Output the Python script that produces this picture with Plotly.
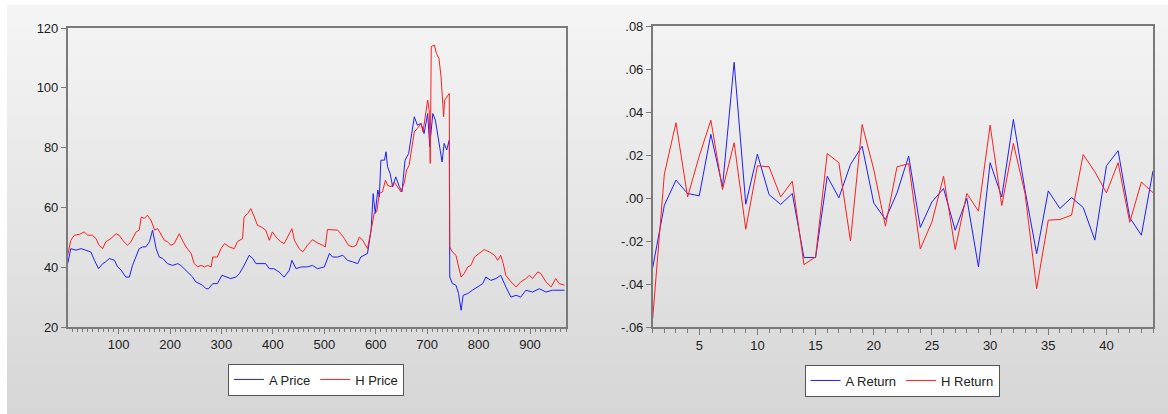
import plotly.graph_objects as go

# ---------------- data ----------------
h_price_idx = [1, 7, 14, 24, 33, 40, 49, 56, 62, 69, 75, 85, 95, 101, 108, 117, 124, 134, 140, 144,
               150, 156, 163, 170, 176, 182, 189, 195, 202, 208, 218, 224, 231, 241, 247, 254, 260, 267,
               273, 280, 283, 292, 299, 306, 315, 325, 331, 341, 344, 351, 357, 364, 370, 377, 386, 393,
               399, 406, 415, 422, 432, 437, 442, 451, 458, 467, 477, 487, 497, 502, 506, 516, 526, 532,
               539, 547, 555, 562, 568, 575, 581, 584, 591, 594, 597, 602, 607, 613, 619, 623, 630, 636,
               643, 649, 656, 660, 665, 670, 675, 681, 688, 692, 698, 701, 704, 706, 708, 714, 718, 723,
               727, 730, 732, 734, 738, 743, 744, 749, 756, 761, 766, 772, 779, 785, 792, 801, 811, 821,
               831, 837, 843, 848, 853, 863, 873, 882, 892, 899, 905, 915, 921, 931, 941, 950, 957, 967]
h_price = [44, 49, 50.7, 51, 51.8, 50.7, 50.7, 49.6, 47.3, 46.2, 48.5, 49.6, 51.2, 50.7, 49, 47.3, 48.5,
           51.8, 52.4, 56.8, 56.3, 57.4, 55.7, 52.4, 52.9, 51.2, 49, 48.5, 47.3, 47.9, 51.2, 49, 46.8,
           44.6, 41.2, 40.1, 40.6, 40.1, 40.6, 40.1, 43.4, 43.4, 46.2, 47.9, 46.8, 46.2, 48.5, 49.6,
           56.8, 57.9, 59.6, 56.8, 54, 53.5, 52.4, 49, 51.8, 50.1, 48.5, 47.9, 51.2, 52.9, 49, 46.2,
           45.1, 47.3, 49.2, 48.1, 47.3, 46.8, 52.6, 52.6, 52.4, 51.2, 49.6, 47.3, 46.8, 47.3, 50.1,
           49, 46.8, 46.2, 52.4, 55.7, 58, 58.5, 64.6, 65.2, 69.1, 67.4, 66.9, 68.5, 66.9, 65.2, 68.5,
           72.5, 74.1, 80.3, 85.3, 86.4, 88.1, 85.3, 91.4, 95.9, 92.5, 74.7, 113.8, 114.3, 111.5,
           109.8, 103.7, 93.7, 90.3, 95.9, 97, 98.1, 46.8, 45.1, 44, 40.1, 36.7, 37.9, 40.1, 40.6,
           43.4, 44.6, 45.9, 45.1, 44, 42.3, 44, 41.2, 37.3, 35.1, 33.4, 35.1, 36.2, 37.3, 36.2, 38.4,
           37.9, 35.1, 33.4, 36.2, 34.5, 34]

a_price_idx = [1, 7, 17, 27, 36, 46, 53, 61, 69, 75, 82, 92, 98, 105, 114, 121, 127, 134, 140, 147,
               153, 160, 166, 173, 179, 186, 195, 205, 215, 221, 228, 237, 244, 250, 257, 263, 270, 275,
               283, 292, 301, 309, 318, 328, 335, 344, 354, 361, 367, 377, 386, 393, 402, 412, 422, 432,
               437, 445, 455, 467, 477, 487, 500, 505, 510, 516, 526, 536, 545, 555, 565, 571, 578, 584,
               591, 595, 599, 604, 607, 610, 617, 620, 623, 628, 633, 639, 646, 651, 657, 664, 670, 675,
               681, 688, 694, 701, 705, 711, 716, 720, 724, 729, 733, 738, 743, 744, 749, 756, 761, 766,
               770, 779, 788, 798, 808, 814, 824, 834, 843, 853, 863, 873, 882, 892, 905, 918, 931, 944,
               957, 967]
a_price = [41.2, 46.2, 45.7, 46.2, 45.7, 45.1, 42.3, 39.5, 41.2, 41.8, 42.9, 42.3, 40.1, 39, 36.7, 36.7,
           40.6, 43.4, 46.2, 46.8, 46.8, 48.5, 52.4, 46.2, 43.4, 42.9, 41.2, 40.6, 41.2, 40.6, 39.5,
           37.9, 36.7, 35.1, 34.5, 34, 32.8, 32.8, 34.5, 34.5, 37.3, 36.7, 36.2, 36.7, 37.9, 40.6, 44,
           42.9, 41.2, 41.2, 41.2, 39.5, 39.5, 38.4, 36.7, 39, 42.3, 39.5, 40.1, 40.1, 40.6, 39.5, 40.1,
           42.3, 44.6, 43.4, 43.4, 44, 42.3, 41.8, 41.2, 43.4, 44, 44.6, 52.4, 64.6, 58, 65.8, 63.5,
           75.8, 75.8, 78.6, 73.6, 71.3, 66.9, 70.2, 66.9, 65.2, 75.8, 78, 84.7, 90.3, 87.5, 88.1, 84.7,
           91.4, 80.3, 91.4, 89.2, 84.7, 80.3, 75.2, 81.4, 79.2, 82.5, 36.7, 34.5, 34, 31.2, 25.6, 30.6,
           31.2, 32.3, 33.4, 34.5, 36.7, 35.6, 36.2, 37.3, 33.4, 30, 30.6, 30, 32.3, 31.7, 32.8, 31.7,
           32.3, 32.3, 32.3]

ret_idx = list(range(1, 45))
a_return = [-0.0324, -0.0034, 0.0083, 0.0021, 0.0010, 0.0296, 0.0052, 0.0631, -0.0029, 0.0204,
            0.0016, -0.0030, 0.0021, -0.0277, -0.0277, 0.0101, 0.0001, 0.0156, 0.0241, -0.0023,
            -0.0100, 0.0024, 0.0195, -0.0137, -0.0018, 0.0044, -0.0150, -0.0002, -0.0321, 0.0164,
            0.0005, 0.0365, 0.0036, -0.0259, 0.0033, -0.0049, 0.0002, -0.0044, -0.0196, 0.0150,
            0.0220, -0.0091, -0.0173, 0.0126]
h_return = [-0.0561, 0.0111, 0.0350, 0.0005, 0.0195, 0.0362, 0.0039, 0.0257, -0.0145, 0.0150,
            0.0145, 0.0005, 0.0078, -0.0310, -0.0274, 0.0207, 0.0164, -0.0200, 0.0342, 0.0133,
            -0.0131, 0.0145, 0.0160, -0.0237, -0.0111, 0.0101, -0.0240, 0.0021, -0.0061, 0.0339,
            -0.0035, 0.0254, 0.0021, -0.0422, -0.0103, -0.0100, -0.0080, 0.0202, 0.0122, 0.0024,
            0.0164, -0.0113, 0.0074, 0.0025]

ret_tickvals = [-0.06, -0.04, -0.02, 0.0, 0.02, 0.04, 0.06, 0.08]
ret_ticktext = ['-.06', '-.04', '-.02', '.00', '.02', '.04', '.06', '.08']

# ---------------- figure ----------------
W, H = 1168, 414
BLUE = 'rgb(30,30,255)'
RED = 'rgb(255,30,30)'
FONT = 'Liberation Sans, Arial, sans-serif'

fig = go.Figure()
fig.add_trace(go.Scatter(x=a_price_idx, y=a_price, mode='lines', name='A Price',
                         line=dict(color=BLUE, width=1), xaxis='x', yaxis='y', legend='legend'))
fig.add_trace(go.Scatter(x=h_price_idx, y=h_price, mode='lines', name='H Price',
                         line=dict(color=RED, width=1), xaxis='x', yaxis='y', legend='legend'))
fig.add_trace(go.Scatter(x=ret_idx, y=a_return, mode='lines', name='A Return',
                         line=dict(color=BLUE, width=1), xaxis='x2', yaxis='y2', legend='legend2'))
fig.add_trace(go.Scatter(x=ret_idx, y=h_return, mode='lines', name='H Return',
                         line=dict(color=RED, width=1), xaxis='x2', yaxis='y2', legend='legend2'))

# background gradient bands (slightly overlapping to avoid seams)
shapes = []
n = 60
top, bottom = 1 - 5 / H, 0.0
step = (top - bottom) / n
for k in range(n):
    y1 = top - step * k
    y0 = max(bottom, y1 - step - 1.5 / H)
    c = int(round(245 - (245 - 214) * (k + 0.5) / n))
    shapes.append(dict(type='rect', xref='paper', yref='paper', x0=7 / W, x1=1, y0=y0, y1=y1,
                       fillcolor=f'rgb({c},{c},{c})', line=dict(width=0), layer='below'))

axis_common = dict(showline=True, mirror=True, linecolor='#7a7a7a', linewidth=1.5, showgrid=False,
                   zeroline=False, ticks='outside', tickcolor='#7a7a7a', automargin=False,
                   tickfont=dict(size=13, color='#222'))

fig.update_layout(
    width=W, height=H, autosize=False, margin=dict(l=0, r=0, t=0, b=0, pad=0, autoexpand=False),
    paper_bgcolor='white', plot_bgcolor='white',
    font=dict(family=FONT, size=13, color='#222'),
    shapes=shapes,
    xaxis=dict(domain=[67.7 / W, 566 / W], range=[1, 970], tick0=0, dtick=100, ticklen=5,
               minor=dict(dtick=10, ticks='outside', ticklen=3, tickcolor='#7a7a7a'),
               anchor='y', **axis_common),
    yaxis=dict(domain=[1 - 327 / H, 1 - 28 / H], range=[20, 120], dtick=20, ticklen=5,
               anchor='x', **axis_common),
    xaxis2=dict(domain=[652.7 / W, 1153 / W], range=[1, 44], tick0=0, dtick=5, ticklen=6,
                minor=dict(dtick=1, ticks='outside', ticklen=4, tickcolor='#7a7a7a'),
                anchor='y2', **axis_common),
    yaxis2=dict(domain=[1 - 327 / H, 1 - 26 / H], range=[-0.06, 0.08], tickvals=ret_tickvals,
                ticktext=ret_ticktext, ticklen=5, anchor='x2', **axis_common),
    legend=dict(x=316 / W, y=1 - 379.5 / H, xanchor='center', yanchor='middle', orientation='h',
                bgcolor='white', bordercolor='#555', borderwidth=1, font=dict(size=13, color='#222')),
    legend2=dict(x=902 / W, y=1 - 380.5 / H, xanchor='center', yanchor='middle', orientation='h',
                 bgcolor='white', bordercolor='#555', borderwidth=1, font=dict(size=13, color='#222')),
)

fig.write_html('out.html', config={'displayModeBar': False},
               post_script="document.body.style.margin='0';document.body.style.overflow='hidden';")
